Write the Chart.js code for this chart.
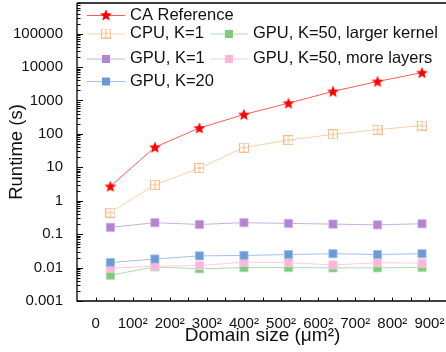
<!DOCTYPE html>
<html>
<head>
<meta charset="utf-8">
<script src="https://cdn.jsdelivr.net/npm/chart.js@4"></script>
<style>
	html, body { margin: 0; padding: 0; background: #fff; overflow: hidden; }
	#wrap { width: 452px; height: 352px; }
</style>
</head>
<body>
<div id="wrap"><canvas id="myChart" width="452" height="352"></canvas></div>
<script>
'use strict';

// domain side length (um), plotted as side, labelled as side^2
var sides = [40, 160, 280, 400, 520, 640, 760, 880];
var xTicks = [0, 100, 200, 300, 400, 500, 600, 700, 800, 900];
var yTicks = [0.001, 0.01, 0.1, 1, 10, 100, 1000, 10000, 100000];

// runtimes (s)
var caReference = [2.7, 40, 150, 380, 830, 1870, 3700, 6800];
var cpuK1 = [0.44, 3.0, 9.5, 39, 65, 97, 134, 178];
var gpuK1 = [0.16, 0.22, 0.195, 0.22, 0.21, 0.2, 0.19, 0.205];
var gpuK20 = [0.0142, 0.018, 0.0224, 0.023, 0.0246, 0.026, 0.0246, 0.026];
var gpuLargerKernel = [0.0059, 0.0105, 0.0092, 0.01, 0.01, 0.0098, 0.0098, 0.0101];
var gpuMoreLayers = [0.0096, 0.011, 0.0115, 0.0145, 0.014, 0.012, 0.014, 0.0135];

var FONT = '"Liberation Sans", Arial, sans-serif';

function pts(values) {
	return sides.map(function(s, i) { return { x: s, y: values[i] }; });
}

// filled 5 point star
function starImage() {
	var c = document.createElement('canvas');
	c.width = 14; c.height = 14;
	var g = c.getContext('2d');
	g.beginPath();
	for (var i = 0; i < 10; i++) {
		var r = (i % 2 === 0) ? 6.3 : 2.7;
		var a = -Math.PI / 2 + i * Math.PI / 5;
		var px = 7 + r * Math.cos(a), py = 7.5 + r * Math.sin(a);
		if (i === 0) g.moveTo(px, py); else g.lineTo(px, py);
	}
	g.closePath();
	g.fillStyle = '#ff0000';
	g.fill();
	return c;
}

// hollow square with a plus inside
function boxPlusImage() {
	var c = document.createElement('canvas');
	c.width = 10; c.height = 10;
	var g = c.getContext('2d');
	g.strokeStyle = '#fbbd8c';
	g.lineWidth = 1;
	g.fillStyle = '#ffffff';
	g.fillRect(0.5, 0.5, 9, 9);
	g.strokeRect(0.5, 0.5, 9, 9);
	g.beginPath();
	g.moveTo(5, 0.5); g.lineTo(5, 9.5);
	g.moveTo(0.5, 5); g.lineTo(9.5, 5);
	g.stroke();
	return c;
}

var star = starImage();
var boxPlus = boxPlusImage();

function squareSet(label, values, fill, line, order) {
	return {
		label: label, data: pts(values),
		borderColor: line, borderWidth: 1,
		pointStyle: 'rect', pointRadius: 5.8, pointHoverRadius: 5.8,
		pointBackgroundColor: fill, pointBorderColor: line, pointBorderWidth: 0.8,
		order: order || 0
	};
}

var datasets = [
	{
		label: 'CA Reference', data: pts(caReference),
		borderColor: '#ff5a5a', borderWidth: 1,
		pointStyle: star, pointRadius: 6
	},
	{
		label: 'CPU, K=1', data: pts(cpuK1),
		borderColor: '#fdcfa6', borderWidth: 1,
		pointStyle: boxPlus, pointRadius: 5
	},
	squareSet('GPU, K=1', gpuK1, '#b583d4', '#cdaee3'),
	squareSet('GPU, K=20', gpuK20, '#6b9bd7', '#a4c0e8'),
	squareSet('GPU, K=50, larger kernel', gpuLargerKernel, '#7dca7d', '#acdcac', 1),
	squareSet('GPU, K=50, more layers', gpuMoreLayers, '#fdb5da', '#fdcbe5')
];

// legend placement: [column x of line start, row y]
var legendPos = [[87, 15], [87, 33.5], [87, 58.5], [87, 81], [210, 33.5], [210, 58.5]];

var framePlugin = {
	id: 'frame',
	afterDraw: function(chart) {
		var ctx = chart.ctx, area = chart.chartArea;
		var xs = chart.scales.x, ys = chart.scales.y;
		ctx.save();
		ctx.strokeStyle = '#000';
		ctx.lineWidth = 1.3;
		// axes + top border
		ctx.beginPath();
		ctx.moveTo(area.left, area.top);
		ctx.lineTo(area.right, area.top);
		ctx.moveTo(area.left, area.top);
		ctx.lineTo(area.left, area.bottom);
		ctx.lineTo(area.right, area.bottom);
		ctx.stroke();

		ctx.lineWidth = 1;
		ctx.beginPath();
		// y ticks, major and minor, pointing inward
		for (var e = -3; e <= 5; e++) {
			for (var m = 1; m <= 9; m++) {
				var v = m * Math.pow(10, e);
				var py = Math.round(ys.getPixelForValue(v)) + 0.5;
				if (py < area.top) continue;
				var len = (m === 1) ? 6 : 3.5;
				ctx.moveTo(area.left, py);
				ctx.lineTo(area.left + len, py);
			}
		}
		// x ticks every 50, pointing inward
		for (var t = 0; t <= 900; t += 50) {
			var px = Math.round(xs.getPixelForValue(t)) + 0.5;
			ctx.moveTo(px, area.bottom);
			ctx.lineTo(px, area.bottom - 3.5);
		}
		ctx.stroke();

		// legend
		ctx.font = '16.5px ' + FONT;
		ctx.textBaseline = 'middle';
		ctx.fillStyle = '#111';
		datasets.forEach(function(ds, i) {
			var lx = legendPos[i][0], ly = legendPos[i][1];
			ctx.strokeStyle = ds.borderColor;
			ctx.lineWidth = 1;
			ctx.beginPath();
			ctx.moveTo(lx, ly + 0.5);
			ctx.lineTo(lx + 38, ly + 0.5);
			ctx.stroke();
			var cx = lx + 19;
			if (ds.pointStyle === 'rect') {
				ctx.fillStyle = ds.pointBackgroundColor;
				ctx.fillRect(cx - 4, ly - 3.5, 8, 8);
			} else {
				var img = ds.pointStyle;
				ctx.drawImage(img, cx - img.width / 2, ly - img.height / 2);
			}
			ctx.fillStyle = '#111';
			ctx.fillText(ds.label, lx + 43, ly);
		});
		ctx.restore();
	}
};

Chart.defaults.font.family = FONT;
Chart.defaults.color = '#111';

var chart = new Chart(document.getElementById('myChart'), {
	type: 'line',
	data: { datasets: datasets },
	options: {
		responsive: false,
		animation: false,
		devicePixelRatio: 1,
		layout: { autoPadding: false, padding: { top: 3, right: 4, left: 0, bottom: 0 } },
		plugins: { legend: { display: false }, tooltip: { enabled: false } },
		scales: {
			x: {
				type: 'linear', min: -50, max: 950, bounds: 'data',
				grid: { display: false }, border: { display: false },
				afterBuildTicks: function(scale) {
					scale.ticks = xTicks.map(function(v) { return { value: v }; });
				},
				afterFit: function(scale) {
					scale.height = 51;
					scale.paddingLeft = 0; scale.paddingRight = 0;
				},
				ticks: {
					padding: 6, maxRotation: 0, autoSkip: false,
					font: { size: 15 },
					callback: function(v) { return v === 0 ? '0' : v + '\u00b2'; }
				},
				title: {
					display: true, text: 'Domain size (\u03bcm\u00b2)',
					font: { size: 19 }, padding: { top: 0, bottom: 5 }
				}
			},
			y: {
				type: 'logarithmic', min: 0.001, max: 826000, bounds: 'data',
				grid: { display: false }, border: { display: false },
				afterBuildTicks: function(scale) {
					scale.ticks = yTicks.map(function(v) { return { value: v }; });
				},
				afterFit: function(scale) {
					scale.width = 77;
					scale.paddingTop = 0; scale.paddingBottom = 0;
				},
				ticks: {
					padding: 6, autoSkip: false,
					font: { size: 15 },
					callback: function(v) { return String(v); }
				},
				title: {
					display: true, text: 'Runtime (s)',
					font: { size: 18.5 }, padding: { top: 6, bottom: 0 }
				}
			}
		}
	},
	plugins: [framePlugin]
});
</script>
</body>
</html>
